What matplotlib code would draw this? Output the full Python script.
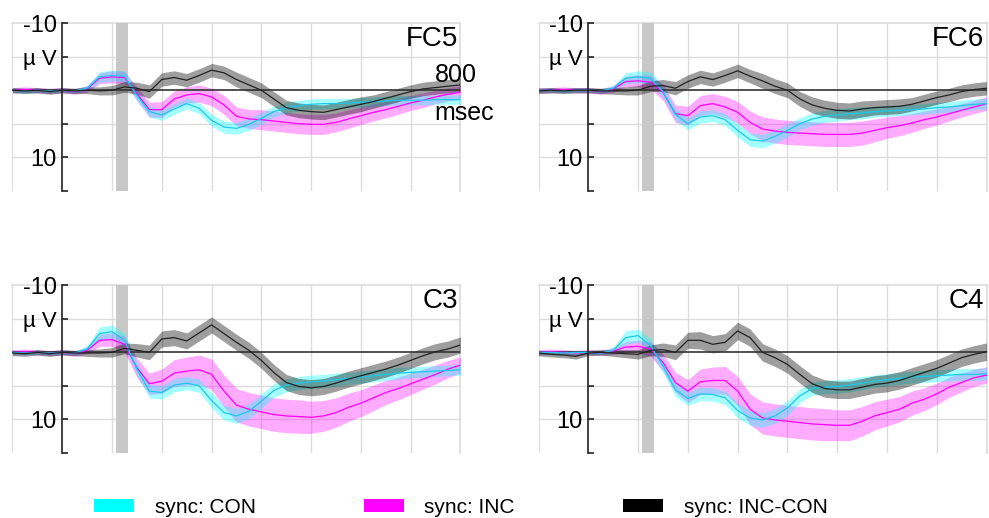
import matplotlib.pyplot as plt
import numpy as np
from matplotlib.patches import Patch

plt.rcParams["font.family"] = ["Liberation Sans", "DejaVu Sans"]

# sampling points (ms after stimulus)
time_ms = [-100, -75, -50, -25, 0, 25, 50, 75, 100, 125, 150, 175, 200, 225,
           250, 275, 300, 325, 350, 375, 400, 425, 450, 475, 500, 525, 550,
           575, 600, 625, 650, 675, 700, 725, 750, 775, 800]

panel_names = ["FC5", "FC6", "C3", "C4"]
legend_labels = ["sync: CON", "sync: INC", "sync: INC-CON"]

# FC5
fc5_con = [0.0, 0.1, 0.0, 0.1, 0.0, 0.1, -0.3, -2.0, -2.2, -2.1, 0.8, 3.2, 3.7, 2.8,
           2.0, 2.7, 4.5, 5.5, 5.7, 5.1, 4.2, 3.2, 2.6, 2.3, 2.1, 2.0, 2.0,
           1.9, 1.8, 1.7, 1.6, 1.5, 1.5, 1.5, 1.4, 1.4, 1.4]
fc5_con_sem = [0.3, 0.3, 0.3, 0.3, 0.3, 0.3, 0.4, 0.8, 0.8, 0.8, 0.8, 0.8, 0.8, 0.8,
               0.8, 0.8, 0.9, 0.9, 0.9, 0.9, 0.9, 0.8, 0.8, 0.8, 0.8, 0.8, 0.8,
               0.7, 0.7, 0.7, 0.7, 0.7, 0.7, 0.7, 0.7, 0.7, 0.7]
fc5_inc = [0.0, -0.1, 0.0, 0.1, 0.0, 0.2, -0.2, -1.8, -2.0, -1.9, 0.5, 2.9, 2.9, 1.3,
           0.7, 0.5, 1.0, 2.2, 3.9, 4.3, 4.4, 4.6, 4.8, 5.0, 5.1, 5.1, 4.8,
           4.3, 3.8, 3.3, 2.9, 2.4, 1.9, 1.5, 1.0, 0.6, 0.3]
fc5_inc_sem = [0.4, 0.4, 0.4, 0.4, 0.4, 0.4, 0.5, 0.8, 0.9, 0.9, 1.0, 1.1, 1.2, 1.2,
               1.2, 1.3, 1.3, 1.4, 1.4, 1.4, 1.5, 1.5, 1.5, 1.5, 1.5, 1.5, 1.4,
               1.4, 1.3, 1.3, 1.2, 1.2, 1.1, 1.1, 1.0, 1.0, 1.0]
fc5_dif = [0.0, 0.1, 0.0, 0.2, 0.0, 0.1, 0.0, 0.1, 0.0, -0.5, -0.3, 0.2, -1.6, -1.9,
           -1.5, -2.2, -3.0, -2.6, -1.6, -0.8, 0.0, 1.3, 2.6, 3.0, 3.2, 3.3, 2.9,
           2.5, 2.1, 1.7, 1.2, 0.7, 0.2, -0.2, -0.4, -0.6, -0.8]
fc5_dif_sem = [0.4, 0.4, 0.4, 0.4, 0.4, 0.4, 0.5, 0.6, 0.7, 0.8, 0.9, 1.0, 1.0, 1.0,
               1.0, 1.0, 1.0, 1.0, 1.1, 1.1, 1.1, 1.1, 1.1, 1.1, 1.1, 1.1, 1.1,
               1.1, 1.1, 1.0, 1.0, 1.0, 1.0, 1.0, 1.0, 1.0, 1.0]

# FC6
fc6_con = [0.0, 0.0, 0.1, 0.0, 0.0, 0.1, -0.3, -1.8, -2.0, -1.8, 0.2, 3.6, 5.0, 4.0,
           3.8, 4.4, 6.0, 7.4, 7.6, 6.9, 6.0, 5.0, 4.3, 3.9, 3.7, 3.5, 3.4,
           3.2, 3.1, 3.0, 2.9, 2.8, 2.6, 2.5, 2.3, 2.1, 2.0]
fc6_con_sem = [0.3, 0.3, 0.3, 0.3, 0.3, 0.3, 0.4, 0.8, 0.9, 0.9, 0.9, 0.9, 0.9, 0.9,
               0.9, 0.9, 1.0, 1.0, 1.0, 1.0, 1.0, 0.9, 0.9, 0.9, 0.9, 0.9, 0.9,
               0.8, 0.8, 0.8, 0.8, 0.8, 0.8, 0.8, 0.8, 0.8, 0.8]
fc6_inc = [0.0, 0.0, -0.1, 0.0, 0.0, 0.2, -0.2, -1.3, -1.4, -1.2, 0.3, 3.5, 3.8, 2.3,
           2.0, 2.5, 3.3, 4.8, 5.8, 6.1, 6.3, 6.4, 6.5, 6.6, 6.6, 6.6, 6.4,
           6.0, 5.6, 5.3, 4.9, 4.4, 4.0, 3.5, 3.0, 2.5, 2.0]
fc6_inc_sem = [0.4, 0.4, 0.4, 0.4, 0.4, 0.4, 0.5, 0.8, 0.9, 1.0, 1.2, 1.3, 1.4, 1.5,
               1.5, 1.6, 1.6, 1.7, 1.8, 1.8, 1.8, 1.8, 1.8, 1.8, 1.8, 1.8, 1.8,
               1.7, 1.6, 1.5, 1.4, 1.3, 1.2, 1.1, 1.0, 1.0, 1.0]
fc6_dif = [0.1, 0.0, 0.1, 0.0, 0.0, 0.1, 0.1, 0.1, 0.0, -0.6, -0.7, -0.3, -1.3, -2.0,
           -1.6, -2.2, -2.9, -2.1, -1.4, -0.6, 0.0, 1.3, 2.2, 2.7, 3.0, 3.1, 2.8,
           2.6, 2.5, 2.4, 2.1, 1.6, 1.1, 0.7, 0.2, -0.1, -0.3]
fc6_dif_sem = [0.4, 0.4, 0.4, 0.4, 0.4, 0.4, 0.5, 0.6, 0.7, 0.8, 0.9, 1.0, 1.0, 1.0,
               1.0, 1.0, 1.0, 1.0, 1.1, 1.1, 1.1, 1.1, 1.2, 1.2, 1.2, 1.2, 1.2,
               1.1, 1.1, 1.1, 1.0, 1.0, 1.0, 1.0, 1.0, 1.0, 1.0]

# C3
c3_con = [0.0, 0.1, 0.0, 0.1, 0.0, 0.1, -0.5, -2.8, -3.1, -1.8, 2.5, 5.8, 6.0, 4.9,
          4.6, 5.0, 7.2, 9.0, 9.5, 8.8, 7.3, 5.7, 4.9, 4.6, 4.4, 4.3, 4.1,
          3.9, 3.7, 3.5, 3.3, 3.1, 3.0, 2.9, 2.8, 2.7, 2.6]
c3_con_sem = [0.3, 0.3, 0.3, 0.3, 0.3, 0.3, 0.5, 1.0, 1.0, 1.0, 1.0, 1.0, 1.0, 1.0,
              1.0, 1.0, 1.1, 1.1, 1.1, 1.1, 1.1, 1.0, 1.0, 1.0, 1.0, 1.0, 1.0,
              0.9, 0.9, 0.9, 0.9, 0.9, 0.8, 0.8, 0.8, 0.8, 0.8]
c3_inc = [0.0, -0.1, 0.0, 0.1, 0.0, 0.2, -0.3, -1.8, -1.9, -1.2, 2.3, 4.7, 4.3, 3.1,
          2.8, 2.6, 3.3, 5.8, 7.9, 8.5, 8.9, 9.3, 9.5, 9.6, 9.7, 9.5, 9.0,
          8.2, 7.6, 6.8, 6.0, 5.4, 4.7, 4.0, 3.3, 2.5, 1.9]
c3_inc_sem = [0.4, 0.4, 0.4, 0.4, 0.4, 0.4, 0.5, 0.9, 1.0, 1.2, 1.4, 1.6, 1.8, 2.0,
              2.1, 2.2, 2.3, 2.4, 2.5, 2.5, 2.5, 2.5, 2.5, 2.5, 2.4, 2.3, 2.2,
              2.1, 2.0, 1.9, 1.8, 1.7, 1.6, 1.5, 1.4, 1.3, 1.2]
c3_dif = [0.1, 0.2, 0.0, 0.2, 0.0, 0.1, 0.1, 0.1, 0.0, -0.6, -0.3, 0.0, -2.0, -2.2,
          -1.7, -2.9, -4.1, -2.8, -1.5, -0.3, 1.2, 3.0, 4.5, 5.1, 5.3, 5.1, 4.6,
          4.0, 3.5, 3.0, 2.5, 1.9, 1.2, 0.5, -0.1, -0.5, -1.1]
c3_dif_sem = [0.4, 0.4, 0.4, 0.4, 0.4, 0.4, 0.5, 0.6, 0.7, 0.8, 1.0, 1.1, 1.2, 1.2,
              1.2, 1.2, 1.2, 1.2, 1.2, 1.2, 1.2, 1.2, 1.2, 1.2, 1.2, 1.2, 1.2,
              1.2, 1.2, 1.2, 1.2, 1.2, 1.2, 1.2, 1.2, 1.2, 1.2]

# C4
c4_con = [0.0, 0.0, 0.1, 0.0, 0.0, 0.1, -0.3, -2.2, -2.5, -1.0, 2.0, 5.6, 6.9, 6.2,
          6.3, 6.8, 8.7, 9.8, 10.1, 9.5, 8.3, 6.5, 5.4, 5.2, 5.1, 4.9, 4.6,
          4.3, 4.1, 3.9, 3.7, 3.6, 3.5, 3.4, 3.3, 3.3, 3.2]
c4_con_sem = [0.3, 0.3, 0.3, 0.3, 0.3, 0.3, 0.5, 1.0, 1.0, 1.0, 1.0, 1.0, 1.0, 1.0,
              1.0, 1.0, 1.1, 1.1, 1.1, 1.1, 1.1, 1.0, 1.0, 1.0, 1.0, 1.0, 1.0,
              0.9, 0.9, 0.9, 0.9, 0.9, 0.9, 0.9, 0.9, 0.9, 0.9]
c4_inc = [0.0, -0.1, 0.0, 0.1, 0.0, 0.1, -0.2, -0.8, -0.9, -0.5, 1.5, 4.5, 5.8, 4.4,
          4.2, 4.2, 5.8, 8.5, 9.8, 10.1, 10.3, 10.5, 10.7, 10.8, 10.9, 10.9, 10.3,
          9.5, 9.0, 8.5, 7.6, 7.0, 6.2, 5.2, 4.5, 3.8, 3.4]
c4_inc_sem = [0.4, 0.4, 0.4, 0.4, 0.4, 0.4, 0.5, 0.8, 0.9, 1.1, 1.3, 1.5, 1.7, 1.9,
              2.0, 2.1, 2.2, 2.3, 2.4, 2.4, 2.4, 2.4, 2.4, 2.4, 2.3, 2.3, 2.2,
              2.1, 2.0, 1.9, 1.8, 1.7, 1.6, 1.5, 1.4, 1.3, 1.2]
c4_dif = [0.1, 0.3, 0.4, 0.6, 0.1, 0.0, 0.1, 0.2, 0.3, -0.3, -0.4, 0.0, -1.8, -1.8,
          -1.2, -1.5, -3.2, -2.2, 0.0, 0.8, 1.8, 3.3, 4.7, 5.4, 5.6, 5.6, 5.2,
          4.8, 4.6, 4.2, 3.6, 3.0, 2.4, 1.6, 0.8, 0.3, -0.1]
c4_dif_sem = [0.4, 0.4, 0.4, 0.4, 0.4, 0.4, 0.5, 0.6, 0.7, 0.8, 1.0, 1.1, 1.2, 1.3,
              1.3, 1.3, 1.3, 1.3, 1.3, 1.3, 1.3, 1.3, 1.3, 1.3, 1.3, 1.3, 1.3,
              1.3, 1.3, 1.3, 1.3, 1.3, 1.3, 1.3, 1.3, 1.3, 1.3]

panel_data = {
    "FC5": (fc5_con, fc5_con_sem, fc5_inc, fc5_inc_sem, fc5_dif, fc5_dif_sem),
    "FC6": (fc6_con, fc6_con_sem, fc6_inc, fc6_inc_sem, fc6_dif, fc6_dif_sem),
    "C3": (c3_con, c3_con_sem, c3_inc, c3_inc_sem, c3_dif, c3_dif_sem),
    "C4": (c4_con, c4_con_sem, c4_inc, c4_inc_sem, c4_dif, c4_dif_sem),
}

GRID = "#dcdcdc"


def draw_panel(ax, name):
    t = np.array(time_ms)
    con, con_sem, inc, inc_sem, dif, dif_sem = [np.array(a) for a in panel_data[name]]

    ax.set_xlim(-100, 800)
    ax.set_ylim(15, -10)

    for x in range(100, 801, 100):
        ax.axvline(x, color=GRID, lw=1.0, zorder=0)
    for y in (-5, 5, 10):
        ax.axhline(y, color=GRID, lw=1.0, zorder=0)
    ax.axvline(-100, color=GRID, lw=1.5, zorder=0)

    # stimulus marker
    ax.axvspan(108, 133, color="#c8c8c8", lw=0, zorder=1)

    ax.fill_between(t, inc - inc_sem, inc + inc_sem, color="#ff00ff", alpha=0.33, lw=0, zorder=2)
    ax.fill_between(t, con - con_sem, con + con_sem, color="#00ffff", alpha=0.35, lw=0, zorder=3)
    ax.fill_between(t, dif - dif_sem, dif + dif_sem, color="#000000", alpha=0.38, lw=0, zorder=4)

    ax.plot(t, inc, color="#ff00ff", lw=0.9, zorder=6)
    ax.plot(t, con, color="#1cc8ea", lw=0.9, zorder=6)
    ax.plot(t, dif, color="#222222", lw=0.9, zorder=6)

    ax.axhline(0, color="#333333", lw=1.2, zorder=5)

    for side in ("top", "right"):
        ax.spines[side].set_color(GRID)
        ax.spines[side].set_linewidth(1.2)
        ax.spines[side].set_zorder(0)
    ax.spines["bottom"].set_visible(False)
    ax.spines["left"].set_position(("data", 0))
    ax.spines["left"].set_color("#222222")
    ax.spines["left"].set_linewidth(1.2)
    ax.spines["left"].set_zorder(7)

    ax.set_xticks([])
    ax.set_yticks([-10, -5, 0, 5, 10, 15])
    ax.set_yticklabels(["-10", "µ V", "", "", "10", ""])
    ax.tick_params(axis="y", direction="in", length=4, width=1.2, pad=4,
                   labelsize=17, color="#222222")
    ax.get_yticklabels()[1].set_fontsize(16)

    ax.text(795, -7.7, name, ha="right", va="center", fontsize=20, zorder=8)


fig = plt.figure(figsize=(9.89, 5.18), dpi=100)
positions = {
    "FC5": [0.0126, 0.632, 0.453, 0.323],
    "FC6": [0.5445, 0.632, 0.453, 0.323],
    "C3": [0.0126, 0.126, 0.453, 0.323],
    "C4": [0.5445, 0.126, 0.453, 0.323],
}
for name in panel_names:
    ax = fig.add_axes(positions[name])
    draw_panel(ax, name)
    if name == "FC5":
        ax.text(748, -2.3, "800", ha="left", va="center", fontsize=18, zorder=8)
        ax.text(748, 3.4, "msec", ha="left", va="center", fontsize=18, zorder=8)

handles = [Patch(facecolor=c, edgecolor="none") for c in ("#00ffff", "#ff00ff", "#000000")]
fig.legend(handles, legend_labels, loc="center", bbox_to_anchor=(0.466, 0.021),
           ncol=3, frameon=False, fontsize=15, handlelength=1.9, handleheight=0.6,
           handletextpad=1.0, columnspacing=5.2)

fig.savefig("out.png", dpi=100)
